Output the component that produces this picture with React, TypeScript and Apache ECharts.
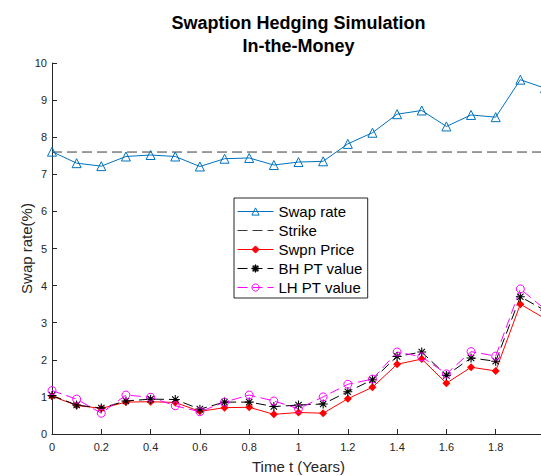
import React, { useEffect, useRef } from 'react';
import * as echarts from 'echarts';

// ---- data ----
const times = [0, 0.1, 0.2, 0.3, 0.4, 0.5, 0.6, 0.7, 0.8, 0.9, 1.0, 1.1, 1.2, 1.3, 1.4, 1.5, 1.6, 1.7, 1.8, 1.9, 2.0];
const swapRate = [7.61, 7.30, 7.22, 7.48, 7.52, 7.48, 7.21, 7.42, 7.44, 7.25, 7.33, 7.35, 7.82, 8.12, 8.62, 8.72, 8.29, 8.60, 8.54, 9.55, 9.32];
const strikeRate = 7.6;
const swpnPrice = [1.02, 0.77, 0.69, 0.86, 0.87, 0.85, 0.61, 0.71, 0.72, 0.53, 0.58, 0.56, 0.95, 1.26, 1.88, 2.02, 1.37, 1.80, 1.70, 3.50, 3.11];
const bhValue = [1.04, 0.78, 0.70, 0.89, 0.94, 0.93, 0.67, 0.86, 0.86, 0.74, 0.78, 0.81, 1.14, 1.46, 2.09, 2.21, 1.58, 2.05, 1.96, 3.70, 3.33];
const lhValue = [1.17, 0.94, 0.56, 1.05, 0.99, 0.76, 0.60, 0.86, 1.05, 0.89, 0.68, 1.00, 1.34, 1.48, 2.21, 2.08, 1.62, 2.22, 2.10, 3.91, 3.36];

const seriesNames = ['Swap rate', 'Strike', 'Swpn Price', 'BH PT value', 'LH PT value'];
const titleLines = ['Swaption Hedging Simulation', 'In-the-Money'];
const xAxisName = 'Time t (Years)';
const yAxisName = 'Swap rate(%)';

const FONT = '"Liberation Sans", Arial, Helvetica, sans-serif';
const AXIS = '#262626';
const CLEAR = 'rgba(255,255,255,0)';
const ASTERISK =
  'path://M-0.6,-5L0.6,-5L0.6,5L-0.6,5Z M-5,-0.6L5,-0.6L5,0.6L-5,0.6Z M-3.95,-3.1L-3.1,-3.95L3.95,3.1L3.1,3.95Z M3.1,-3.95L3.95,-3.1L-3.1,3.95L-3.95,3.1Z';

const pairs = (vals: number[]) => times.map((t, i) => [t, vals[i]]);

export default function App() {
  const ref = useRef<HTMLDivElement>(null);
  useEffect(() => {
    if (!ref.current) return;
    const chart = echarts.init(ref.current, null, { renderer: 'svg' });
    const option: any = {
      animation: false,
      backgroundColor: '#ffffff',
      textStyle: { fontFamily: FONT },
      graphic: [
        {
          type: 'text',
          x: 298.5,
          y: 11,
          style: {
            text: titleLines.join('\n'),
            font: `bold 18px ${FONT}`,
            fill: '#000',
            align: 'center',
            verticalAlign: 'top',
            lineHeight: 23,
          },
        },
      ],
      grid: { left: 52, right: -4, top: 63, bottom: 42, containLabel: false, outerBoundsMode: 'none' },
      xAxis: {
        type: 'value',
        min: 0,
        max: 2,
        interval: 0.2,
        name: xAxisName,
        nameLocation: 'middle',
        nameGap: 25,
        nameMoveOverlap: false,
        nameTextStyle: { fontSize: 15, color: AXIS, fontFamily: FONT },
        axisLine: { show: true, lineStyle: { color: AXIS, width: 1 } },
        axisTick: { show: true, inside: true, length: 5, lineStyle: { color: AXIS, width: 1 } },
        axisLabel: { fontSize: 11, color: AXIS, margin: 7, showMaxLabel: false, fontFamily: FONT },
        splitLine: { show: false },
      },
      yAxis: {
        type: 'value',
        min: 0,
        max: 10,
        interval: 1,
        name: yAxisName,
        nameLocation: 'middle',
        nameGap: 18,
        nameMoveOverlap: false,
        nameTextStyle: { fontSize: 15, color: AXIS, fontFamily: FONT },
        axisLine: { show: true, lineStyle: { color: AXIS, width: 1 } },
        axisTick: { show: true, inside: true, length: 5, lineStyle: { color: AXIS, width: 1 } },
        axisLabel: { fontSize: 11, color: AXIS, margin: 5, fontFamily: FONT },
        splitLine: { show: false },
      },
      legend: {
        orient: 'vertical',
        left: 234,
        top: 198,
        backgroundColor: '#ffffff',
        borderColor: AXIS,
        borderWidth: 1,
        borderRadius: 0,
        padding: [6, 5, 3, 3],
        itemWidth: 36,
        itemHeight: 9,
        itemGap: 4,
        selectedMode: false,
        lineStyle: { width: 1 },
        itemStyle: { borderWidth: 1 },
        textStyle: { fontSize: 15, color: '#000', fontFamily: FONT },
        data: seriesNames,
      },
      series: [
        {
          name: seriesNames[0],
          type: 'line',
          data: pairs(swapRate),
          symbol: 'triangle',
          symbolSize: 9,
          color: '#0072BD',
          lineStyle: { color: '#0072BD', width: 1 },
          itemStyle: { color: CLEAR, borderColor: '#0072BD', borderWidth: 1 },
        },
        {
          name: seriesNames[1],
          type: 'line',
          data: [
            [times[0], strikeRate],
            [times[times.length - 1], strikeRate],
          ],
          symbol: 'circle',
          showSymbol: false,
          color: '#333',
          lineStyle: { color: '#3a3a3a', width: 1, type: [10, 5] },
          itemStyle: { color: CLEAR, borderColor: CLEAR, borderWidth: 0 },
        },
        {
          name: seriesNames[2],
          type: 'line',
          data: pairs(swpnPrice),
          symbol: 'diamond',
          symbolSize: 8,
          color: '#ff0000',
          lineStyle: { color: '#ff0000', width: 1 },
          itemStyle: { color: '#ff0000', borderColor: '#ff0000', borderWidth: 0 },
        },
        {
          name: seriesNames[3],
          type: 'line',
          data: pairs(bhValue),
          symbol: ASTERISK,
          symbolSize: 9,
          color: '#000',
          lineStyle: { color: '#000', width: 1, type: [10, 5] },
          itemStyle: { color: '#000', borderColor: '#000', borderWidth: 0 },
        },
        {
          name: seriesNames[4],
          type: 'line',
          data: pairs(lhValue),
          symbol: 'circle',
          symbolSize: 8,
          color: '#ff00ff',
          lineStyle: { color: '#ff00ff', width: 1, type: [10, 5] },
          itemStyle: { color: CLEAR, borderColor: '#ff00ff', borderWidth: 1 },
        },
      ],
    };
    chart.setOption(option);
    return () => chart.dispose();
  }, []);
  return (
    <div
      ref={ref}
      style={{ position: 'fixed', left: 0, top: 0, width: 541, height: 476, background: '#fff' }}
    />
  );
}
